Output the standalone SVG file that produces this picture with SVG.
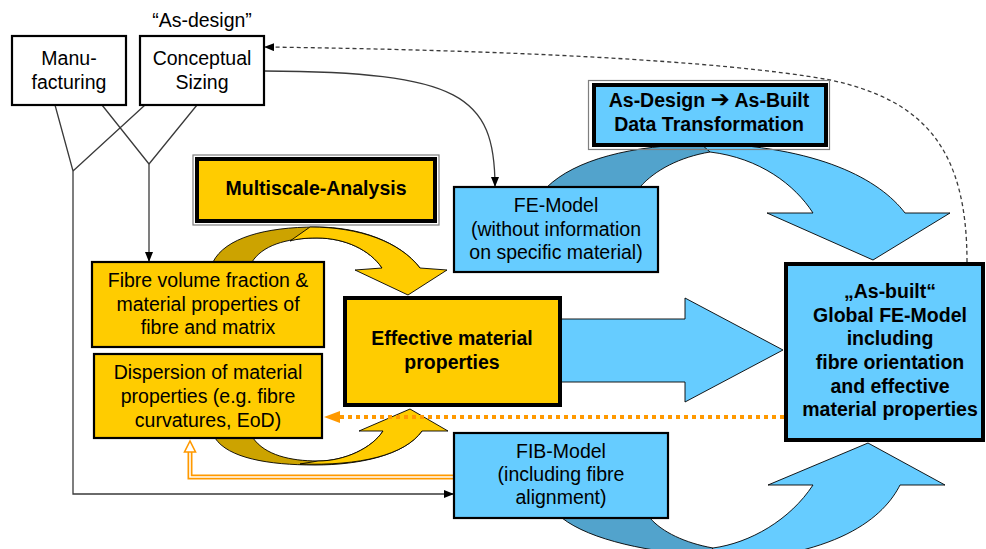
<svg xmlns="http://www.w3.org/2000/svg" width="986" height="549" viewBox="0 0 986 549">
  <defs>
    <style>
      .t { font-family: "Liberation Sans", Arial, sans-serif; font-size: 19.5px; text-anchor: middle; fill: #000; }
      .b { font-weight: bold; }
      .sym { font-family: "DejaVu Sans", sans-serif; font-size: 23px; }
      .box { stroke: #000; stroke-width: 2.2; }
      .thick { stroke: #000; stroke-width: 4; }
      .frame { fill: none; stroke: #7f7f7f; stroke-width: 1.2; }
      .yel { fill: #FFCC00; }
      .yelD { fill: #CCA300; }
      .blu { fill: #66CCFF; }
      .bluD { fill: #52A3CC; }
      .shape { stroke: #000; stroke-width: 0.9; stroke-linejoin: miter; }
      .line { fill: none; stroke: #3a3a3a; stroke-width: 1.3; }
    </style>
    <marker id="arr" viewBox="0 0 10 8" refX="10" refY="4" markerWidth="10" markerHeight="8" markerUnits="userSpaceOnUse" orient="auto">
      <path d="M0,0 L10,4 L0,8 Z" fill="#000"/>
    </marker>
  </defs>

  <g id="connectors">
    <!-- curved block arrow: Multiscale-Analysis (fibre data -> effective properties) -->
    <path class="yelD shape" d="M213,262 C225,238 265,227 316,227 C360,227 400,242 420,268 L382,268 C370,250 345,238 317,238 C285,238 262,246 252,262 Z"/>
    <path class="yel shape" d="M310,227 C360,227 400,242 420,268 L447,270 L408,295 L355,270 L382,268 C370,250 345,238 317,238 C305,238 297,239 290,241 Z"/>

    <!-- curved block arrow: dispersion -> effective properties -->
    <path class="yelD shape" d="M215,438 C228,458 268,465 315,465 C360,465 405,455 422,431 L383,431 C372,448 345,461 318,461 C290,461 265,455 253,438 Z"/>
    <path class="yel shape" d="M300,464 C360,466 405,455 422,431 L448,431 L410,409 L359,431 L383,431 C372,448 345,461 318,461 Z"/>

    <!-- curved block arrow: FE-Model -> global model -->
    <path class="bluD shape" d="M547,187 C575,160 630,145 705,144 L710,152 C680,157 655,170 640,187 Z"/>
    <path class="blu shape" d="M700,143 C820,146 880,180 905,213 L950,213 L873,260 L767,213 L813,213 C795,185 760,158 710,152 Z"/>

    <!-- curved block arrow: FIB-Model -> global model -->
    <path class="bluD shape" d="M562,518 C590,540 650,553 713,556 L713,548 C685,543 662,532 650,518 Z"/>
    <path class="blu shape" d="M700,562 C840,560 885,515 900,485 L945,485 L868,443 L768,485 L813,485 C790,520 750,543 713,548 Z"/>

    <!-- straight block arrow: effective properties -> global model -->
    <path class="blu shape" d="M560,319 L685,319 L685,298 L783,350 L685,402 L685,382 L560,382 Z"/>

    <!-- orange dotted feedback arrow -->
    <line x1="784" y1="417" x2="338" y2="417" stroke="#FF9900" stroke-width="4" stroke-dasharray="4 4"/>
    <path d="M324,417 L340,411 L340,423 Z" fill="#FF9900"/>

    <!-- orange double-line arrow: FIB-Model -> dispersion -->
    <path d="M454,477 L190,477 L190,451" fill="none" stroke="#FF9900" stroke-width="5" stroke-linejoin="miter"/>
    <path d="M454,477 L190,477 L190,451" fill="none" stroke="#fff" stroke-width="1.6" stroke-linejoin="miter"/>
    <path d="M190,441 L184.5,452 L195.5,452 Z" fill="#fff" stroke="#FF9900" stroke-width="1.6"/>

    <!-- thin input lines -->
    <path class="line" d="M55,105 L73,171 M145,105 L73,171 M102,105 L149,164 M197,105 L149,164"/>
    <path class="line" d="M73,171 L73,494 L454,494" marker-end="url(#arr)"/>
    <path class="line" d="M149,164 L149,262" marker-end="url(#arr)"/>
    <path class="line" d="M264,71 C460,72 495,95 495,187" marker-end="url(#arr)"/>
    <path class="line" d="M967,262 C967,150 925,100 830,80 C720,60 500,50 264,47" stroke-dasharray="4 3" marker-end="url(#arr)"/>
  </g>

  <text class="t" x="202" y="27">“As-design”</text>

  <g id="manufacturing">
    <rect class="box" x="12" y="36" width="114" height="69" fill="#fff"/>
    <text class="t" x="69" y="65">Manu-</text>
    <text class="t" x="69" y="89">facturing</text>
  </g>

  <g id="conceptual-sizing">
    <rect class="box" x="140" y="36" width="124" height="69" fill="#fff"/>
    <text class="t" x="202" y="65">Conceptual</text>
    <text class="t" x="202" y="89">Sizing</text>
  </g>

  <g id="multiscale-analysis">
    <rect class="frame" x="193" y="155" width="246" height="70"/>
    <rect class="yel thick" x="197" y="159" width="238" height="62"/>
    <text class="t b" x="316" y="195">Multiscale-Analysis</text>
  </g>

  <g id="data-transformation">
    <rect class="frame" x="588.5" y="80.5" width="241" height="69"/>
    <rect class="blu thick" x="594" y="85" width="232" height="60"/>
    <text class="t b" x="709" y="107">As-Design <tspan class="sym">➔</tspan> As-Built</text>
    <text class="t b" x="709" y="131">Data Transformation</text>
  </g>

  <g id="fe-model">
    <rect class="blu box" x="454" y="187" width="204" height="85"/>
    <text class="t" x="556" y="212">FE-Model</text>
    <text class="t" x="556" y="236">(without information</text>
    <text class="t" x="556" y="259">on specific material)</text>
  </g>

  <g id="fibre-volume-fraction">
    <rect class="yel box" x="92" y="262" width="232" height="85"/>
    <text class="t" x="208" y="287">Fibre volume fraction &amp;</text>
    <text class="t" x="208" y="311">material properties of</text>
    <text class="t" x="208" y="334">fibre and matrix</text>
  </g>

  <g id="dispersion">
    <rect class="yel box" x="94" y="354" width="228" height="84"/>
    <text class="t" x="208" y="379">Dispersion of material</text>
    <text class="t" x="208" y="403">properties (e.g. fibre</text>
    <text class="t" x="208" y="427">curvatures, EoD)</text>
  </g>

  <g id="effective-properties">
    <rect class="yel thick" x="345" y="298" width="215" height="107"/>
    <text class="t b" x="452" y="345">Effective material</text>
    <text class="t b" x="452" y="369">properties</text>
  </g>

  <g id="fib-model">
    <rect class="blu box" x="454" y="433" width="214" height="85"/>
    <text class="t" x="561" y="458">FIB-Model</text>
    <text class="t" x="561" y="481">(including fibre</text>
    <text class="t" x="561" y="504">alignment)</text>
  </g>

  <g id="global-fe-model">
    <rect class="blu thick" x="786" y="264" width="197" height="176"/>
    <text class="t b" x="890" y="298">„As-built“</text>
    <text class="t b" x="890" y="322">Global FE-Model</text>
    <text class="t b" x="890" y="345">including</text>
    <text class="t b" x="890" y="369">fibre orientation</text>
    <text class="t b" x="890" y="393">and effective</text>
    <text class="t b" x="890" y="416">material properties</text>
  </g>
</svg>
